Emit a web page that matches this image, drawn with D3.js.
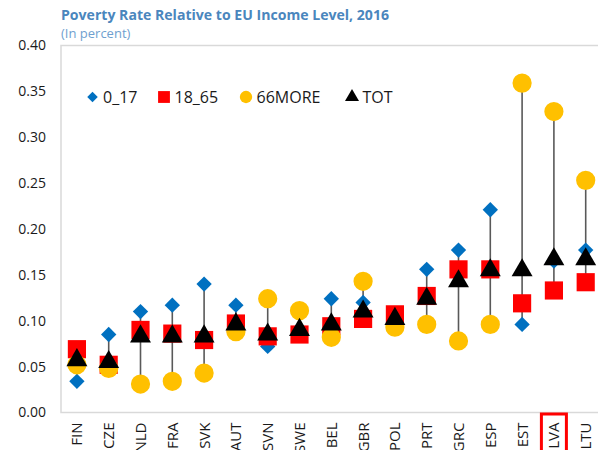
<!DOCTYPE html>
<html>
<head>
<meta charset="utf-8">
<script src="https://cdn.jsdelivr.net/npm/d3@7"></script>
<style>
  html, body { margin: 0; padding: 0; background: #fff; }
  svg { display: block; font-family: "Open Sans", "Noto Sans", sans-serif; }
</style>
</head>
<body>
<svg id="chart" width="598" height="450"></svg>
<script>
// Countries, ordered by total poverty rate
const countries = ["FIN","CZE","NLD","FRA","SVK","AUT","SVN","SWE","BEL","GBR","POL","PRT","GRC","ESP","EST","LVA","LTU"];

// Poverty rates by age group
const age0_17   = [0.034,0.085,0.110,0.117,0.140,0.117,0.072,0.089,0.124,0.120,0.105,0.156,0.177,0.221,0.096,0.165,0.177];
const age18_65  = [0.069,0.052,0.090,0.086,0.079,0.097,0.083,0.085,0.094,0.102,0.107,0.127,0.156,0.156,0.119,0.133,0.142];
const age66more = [0.052,0.048,0.031,0.034,0.043,0.088,0.124,0.111,0.082,0.143,0.093,0.096,0.078,0.096,0.359,0.328,0.253];
const total     = [0.057,0.055,0.083,0.083,0.083,0.096,0.085,0.090,0.096,0.110,0.102,0.124,0.143,0.155,0.155,0.167,0.167];

const yTicks = [0, 0.05, 0.10, 0.15, 0.20, 0.25, 0.30, 0.35, 0.40];
const highlighted = "LVA";

const series = [
  { name: "0_17",   values: age0_17,   color: "#0070c0", shape: d3.symbolDiamond2 },
  { name: "18_65",  values: age18_65,  color: "#ff0000", shape: d3.symbolSquare },
  { name: "66MORE", values: age66more, color: "#ffc000", shape: d3.symbolCircle },
  { name: "TOT",    values: total,     color: "#000000", shape: d3.symbolTriangle }
];

const svg = d3.select("#chart");
const plotLeft = 61, plotTop = 45.5, plotBottom = 412.5, plotRight = 601.6;

const x = d3.scaleBand().domain(countries).range([plotLeft, plotRight]).padding(0);
const y = d3.scaleLinear().domain([0, 0.40]).range([plotBottom, plotTop]);

// Title and subtitle
svg.append("text").attr("x", 61).attr("y", 19.5)
  .attr("font-size", 13.5).attr("font-weight", 700).attr("fill", "#4a86bd")
  .attr("textLength", 328).attr("lengthAdjust", "spacingAndGlyphs")
  .text("Poverty Rate Relative to EU Income Level, 2016");
svg.append("text").attr("x", 61).attr("y", 37.5)
  .attr("font-size", 13).attr("fill", "#6f9fcf")
  .text("(In percent)");

// Plot frame
const frame = svg.append("g").attr("stroke", "#d9d9d9").attr("stroke-width", 1.5).attr("fill", "none");
frame.append("path").attr("d", `M${plotRight},${plotTop}H${plotLeft}V${plotBottom}H${plotRight}`);

// Y axis
const yAxis = svg.append("g").attr("transform", `translate(${plotLeft},0)`)
  .call(d3.axisLeft(y).tickValues(yTicks).tickFormat(d3.format(".2f")).tickSize(0).tickPadding(15));
yAxis.select(".domain").remove();
yAxis.selectAll("text").attr("font-size", 14).attr("fill", "#1a1a1a")
  .attr("font-family", "'Open Sans', sans-serif");

// X axis with rotated labels
const xAxis = svg.append("g").attr("transform", `translate(0,${plotBottom})`)
  .call(d3.axisBottom(x).tickSize(0));
xAxis.select(".domain").remove();
xAxis.selectAll("text")
  .attr("font-size", 15).attr("fill", "#1a1a1a")
  .attr("font-family", "'Open Sans', sans-serif")
  .attr("transform", "rotate(-90)")
  .attr("text-anchor", "end")
  .attr("x", -10).attr("y", 0).attr("dy", "0.36em");

// Highlight box around the Latvia label
svg.append("rect")
  .attr("x", x(highlighted) + x.bandwidth() / 2 - 12.5).attr("y", 414)
  .attr("width", 25).attr("height", 45)
  .attr("fill", "none").attr("stroke", "#ff0000").attr("stroke-width", 3);

// Range lines from min to max per country
svg.append("g").selectAll("line").data(countries).join("line")
  .attr("x1", d => x(d) + x.bandwidth() / 2)
  .attr("x2", d => x(d) + x.bandwidth() / 2)
  .attr("y1", (d, i) => y(d3.max(series, s => s.values[i])))
  .attr("y2", (d, i) => y(d3.min(series, s => s.values[i])))
  .attr("stroke", "#595959").attr("stroke-width", 1.6);

// Markers
const sizes = { "0_17": 150, "18_65": 330, "66MORE": 290, "TOT": 190 };
series.forEach(s => {
  svg.append("g").selectAll("path").data(s.values).join("path")
    .attr("transform", (v, i) => `translate(${x(countries[i]) + x.bandwidth() / 2},${y(v)})`)
    .attr("d", d3.symbol().type(s.shape).size(sizes[s.name]))
    .attr("fill", s.color);
});

// Legend
const legendPos = [92.5, 164, 246, 352];
const legendSizes = { "0_17": 70, "18_65": 140, "66MORE": 120, "TOT": 85 };
const legend = svg.append("g");
series.forEach((s, i) => {
  legend.append("path")
    .attr("transform", `translate(${legendPos[i]},97)`)
    .attr("d", d3.symbol().type(s.shape).size(legendSizes[s.name]))
    .attr("fill", s.color);
  legend.append("text")
    .attr("x", legendPos[i] + 10.5).attr("y", 103)
    .attr("font-size", 16).attr("fill", "#1a1a1a")
    .text(s.name);
});
</script>
</body>
</html>
